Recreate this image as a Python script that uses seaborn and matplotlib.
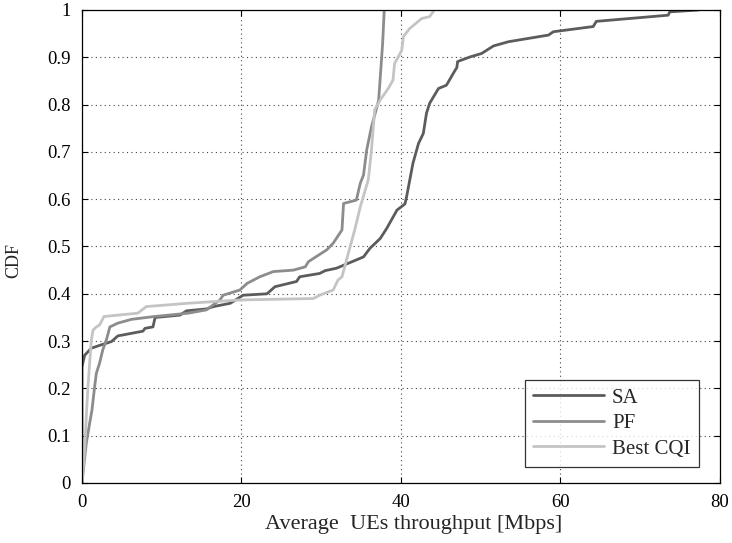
import numpy as np
import pandas as pd
import matplotlib
matplotlib.use("Agg")
import matplotlib.pyplot as plt
import seaborn as sns

# CDF curves of average UE throughput (Mbps) for three schedulers
sa_x = [0.0, 0.0, 0.33, 1.17, 2.4, 3.7, 4.5, 7.65, 7.9, 8.9, 9.1, 9.2, 12.3, 13.1, 15.6,
        16.5, 18.6, 20.2, 23.2, 24.2, 26.9, 27.3, 29.8, 30.5, 31.9, 35.3, 36.1, 37.4,
        38.2, 39.5, 40.5, 40.7, 41.5, 42.2, 42.8, 43.2, 43.6, 44.7, 45.7, 46.8, 47.0,
        47.1, 48.7, 50.1, 51.6, 53.5, 58.5, 59.1, 64.1, 64.5, 73.5, 73.7, 77.3]
sa_y = [0.0, 0.246, 0.27, 0.285, 0.292, 0.299, 0.311, 0.321, 0.327, 0.33, 0.345, 0.35, 0.355,
        0.364, 0.368, 0.373, 0.38, 0.397, 0.40, 0.415, 0.426, 0.436, 0.443, 0.449, 0.454,
        0.478, 0.496, 0.517, 0.538, 0.577, 0.59, 0.605, 0.676, 0.718, 0.739, 0.782, 0.803,
        0.834, 0.841, 0.873, 0.878, 0.891, 0.901, 0.908, 0.924, 0.933, 0.947, 0.954,
        0.965, 0.976, 0.989, 0.996, 1.0]

pf_x = [0.0, 0.25, 0.54, 0.96, 1.25, 1.59, 1.8, 2.2, 2.6, 3.05, 3.5, 4.5, 6.2, 9.1, 13.3,
        15.6, 17.3, 17.7, 19.8, 20.7, 22.3, 24.0, 26.5, 28.0, 28.4, 30.7, 31.5, 32.6,
        32.8, 34.4, 34.9, 35.3, 35.7, 36.3, 37.0, 37.2, 37.5, 37.7, 37.9]
pf_y = [0.0, 0.04, 0.084, 0.126, 0.154, 0.204, 0.232, 0.253, 0.281, 0.302, 0.330, 0.338,
        0.346, 0.352, 0.359, 0.366, 0.387, 0.397, 0.408, 0.422, 0.436, 0.447, 0.45, 0.457,
        0.468, 0.493, 0.507, 0.535, 0.591, 0.598, 0.634, 0.651, 0.704, 0.753, 0.796, 0.81,
        0.881, 0.93, 1.0]

cqi_x = [0.0, 0.33, 0.54, 0.75, 0.96, 1.17, 1.38, 1.8, 2.2, 2.76, 7.0, 8.07, 13.3, 19.8,
         29.0, 29.8, 31.5, 32.1, 32.6, 33.4, 34.2, 34.9, 35.9, 36.3, 36.7, 37.4, 38.4,
         39.0, 39.2, 40.1, 40.3, 41.1, 42.6, 43.6, 44.1]
cqi_y = [0.0, 0.07, 0.14, 0.204, 0.253, 0.302, 0.323, 0.33, 0.334, 0.352, 0.359, 0.373,
         0.380, 0.387, 0.39, 0.397, 0.408, 0.429, 0.436, 0.486, 0.535, 0.584, 0.641,
         0.704, 0.789, 0.81, 0.834, 0.852, 0.887, 0.915, 0.944, 0.961, 0.982, 0.986, 0.998]

schemes = ["SA", "PF", "Best CQI"]
colors = ["#5c5c5c", "#8c8c8c", "#c4c4c4"]
xticks = [0, 20, 40, 60, 80]
yticks = [0, 0.1, 0.2, 0.3, 0.4, 0.5, 0.6, 0.7, 0.8, 0.9, 1.0]
ytick_labels = ["0", "0.1", "0.2", "0.3", "0.4", "0.5", "0.6", "0.7", "0.8", "0.9", "1"]

frames = []
for name, xs, ys in zip(schemes, [sa_x, pf_x, cqi_x], [sa_y, pf_y, cqi_y]):
    frames.append(pd.DataFrame({"throughput": xs, "cdf": ys, "scheme": name}))
df = pd.concat(frames, ignore_index=True)

sns.set_theme(style="white")
plt.rcParams["font.family"] = ["Liberation Serif", "DejaVu Serif"]

fig = plt.figure(figsize=(7.32, 5.43), dpi=100)
ax = fig.add_axes([0.112, 0.1105, 0.8716, 0.8711])

sns.lineplot(data=df, x="throughput", y="cdf", hue="scheme", hue_order=schemes,
             palette=colors, estimator=None, sort=False, units="scheme",
             linewidth=2.0, ax=ax, legend=False)

ax.set_xlim(0, 80)
ax.set_ylim(0, 1)
ax.set_xticks(xticks)
ax.set_yticks(yticks)
ax.set_yticklabels(ytick_labels)
ax.grid(True, linestyle=(0, (1, 3)), color="#444444", linewidth=0.8)
ax.tick_params(direction="in", length=4, width=0.8, colors="black", labelsize=13.5,
               top=True, right=True, bottom=True, left=True, pad=8)
for s in ax.spines.values():
    s.set_color("black")
    s.set_linewidth(0.9)
ax.set_xlabel("Average  UEs throughput [Mbps]", fontsize=16)
ax.xaxis.set_label_coords(0.52, -0.068)
ax.set_ylabel("CDF", fontsize=13)
ax.yaxis.set_label_coords(-0.093, 0.47)

handles = [plt.Line2D([], [], color=c, linewidth=2.0) for c in colors]
leg = ax.legend(handles, schemes, loc="lower right", bbox_to_anchor=(0.967, 0.034),
                borderaxespad=0, fontsize=15, frameon=True, fancybox=False,
                edgecolor="black", handlelength=3.4, labelspacing=0.28,
                handletextpad=0.4, borderpad=0.4)
leg.get_frame().set_linewidth(0.9)

fig.savefig("out.png", dpi=100)
